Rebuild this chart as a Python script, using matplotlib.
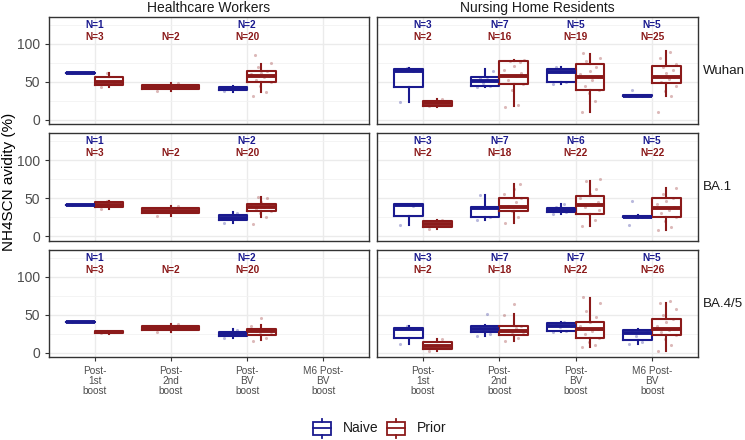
import matplotlib
matplotlib.use('Agg')
import matplotlib.pyplot as plt
from matplotlib.patches import Rectangle
from matplotlib.lines import Line2D

plt.rcParams['font.family'] = ['Liberation Sans', 'DejaVu Sans']

CATEGORIES = ['Post-\n1st\nboost', 'Post-\n2nd\nboost', 'Post-\nBV\nboost', 'M6 Post-\nBV\nboost']
COHORTS = ['Healthcare Workers', 'Nursing Home Residents']
VARIANTS = ['Wuhan', 'BA.1', 'BA.4/5']
GROUPS = ['Naive', 'Prior']

# box stats per category: (whisker low, q1, median, q3, whisker high), None = no data
hcw_wuhan_naive = [(62, 62, 62, 62, 62), None, (37, 39, 41, 43, 45), None]
hcw_wuhan_prior = [(43, 46, 50, 57, 62), (38, 40.5, 43, 45.5, 48), (37, 50, 58, 64, 73), None]
hcw_ba1_naive = [(41, 41, 41, 41, 41), None, (18, 21, 24, 28, 32), None]
hcw_ba1_prior = [(36, 38, 41, 45, 47), (27, 30, 33, 37, 40), (26, 33, 38, 43, 52), None]
hcw_ba45_naive = [(41, 41, 41, 41, 41), None, (20, 22, 25, 28, 31), None]
hcw_ba45_prior = [(25.5, 26, 27.5, 28.5, 29), (28, 30, 33, 36, 38), (17, 24, 29, 32, 37), None]

nh_wuhan_naive = [(24, 43, 64, 67, 68), (44, 45, 51, 56, 67), (47, 50, 63, 67, 70), (31, 31.5, 32, 33, 33.5)]
nh_wuhan_prior = [(17, 19, 22, 25, 27), (18, 47, 58, 77, 79), (10, 40, 56, 73, 87), (32, 49, 56, 71, 91)]
nh_ba1_naive = [(15, 27, 41, 42, 42), (21, 25, 37, 39, 54), (29, 32, 34, 37, 43), (24, 25, 26, 27, 28)]
nh_ba1_prior = [(9, 12, 16, 20, 22), (18, 33, 39, 50, 69), (14, 29, 41, 53, 72), (8, 26, 37, 50, 63)]
nh_ba45_naive = [(12, 20, 31, 33, 35), (22, 27, 31, 35, 37), (27, 29, 36, 39, 41), (12, 17, 26, 30, 31)]
nh_ba45_prior = [(2, 5, 9, 15, 18), (16, 23, 29, 35, 51), (8, 19, 31, 41, 72), (3, 23, 31, 45, 66)]

# individual points per category
hcw_wuhan_naive_pts = [[62], [], [38, 44], []]
hcw_wuhan_prior_pts = [[43, 50, 62], [38, 48], [32, 37, 45, 50, 53, 56, 58, 60, 62, 65, 70, 75, 85], []]
hcw_ba1_naive_pts = [[41], [], [18, 31], []]
hcw_ba1_prior_pts = [[36, 41, 47], [27, 40], [16, 26, 30, 33, 36, 38, 40, 42, 45, 50, 52], []]
hcw_ba45_naive_pts = [[41], [], [20, 30], []]
hcw_ba45_prior_pts = [[26, 27, 29], [28, 38], [16, 20, 25, 27, 29, 30, 32, 35, 46], []]

nh_wuhan_naive_pts = [[24, 64, 68], [44, 45, 48, 51, 55, 56, 64], [47, 50, 63, 67, 70], [31, 32, 32, 33, 40]]
nh_wuhan_prior_pts = [[18, 27], [17, 20, 40, 47, 52, 58, 62, 66, 71, 76, 78, 79],
                      [10, 25, 35, 40, 45, 52, 56, 60, 65, 70, 78, 82, 88],
                      [10, 32, 38, 45, 50, 54, 56, 58, 62, 66, 70, 74, 82, 90]]
nh_ba1_naive_pts = [[15, 40, 42], [21, 25, 37, 39, 54], [29, 32, 34, 36, 38, 43], [15, 25, 26, 27, 46]]
nh_ba1_prior_pts = [[9, 22], [18, 26, 33, 38, 40, 45, 50, 56, 62, 69],
                    [14, 22, 29, 35, 38, 41, 45, 50, 55, 62, 72, 75],
                    [8, 12, 20, 26, 30, 35, 38, 42, 46, 50, 55, 63]]
nh_ba45_naive_pts = [[12, 31, 35], [22, 25, 31, 34, 36, 51], [27, 29, 34, 36, 39, 41], [12, 15, 22, 28, 30]]
nh_ba45_prior_pts = [[2, 18], [16, 20, 25, 28, 30, 33, 36, 50, 64],
                     [8, 10, 15, 19, 25, 29, 31, 35, 40, 47, 55, 66, 73],
                     [3, 10, 18, 23, 27, 30, 31, 35, 40, 45, 50, 58, 66, 68]]

# sample sizes (0 = no label)
hcw_n_naive = [1, 0, 2, 0]
hcw_n_prior = [3, 2, 20, 0]
nh_wuhan_n_naive = [3, 7, 5, 5]
nh_wuhan_n_prior = [2, 16, 19, 25]
nh_ba1_n_naive = [3, 7, 6, 5]
nh_ba1_n_prior = [2, 18, 22, 22]
nh_ba45_n_naive = [3, 7, 7, 5]
nh_ba45_n_prior = [2, 18, 22, 26]

PANELS = {
    (0, 0): (hcw_wuhan_naive, hcw_wuhan_prior, hcw_wuhan_naive_pts, hcw_wuhan_prior_pts, hcw_n_naive, hcw_n_prior),
    (1, 0): (hcw_ba1_naive, hcw_ba1_prior, hcw_ba1_naive_pts, hcw_ba1_prior_pts, hcw_n_naive, hcw_n_prior),
    (2, 0): (hcw_ba45_naive, hcw_ba45_prior, hcw_ba45_naive_pts, hcw_ba45_prior_pts, hcw_n_naive, hcw_n_prior),
    (0, 1): (nh_wuhan_naive, nh_wuhan_prior, nh_wuhan_naive_pts, nh_wuhan_prior_pts, nh_wuhan_n_naive, nh_wuhan_n_prior),
    (1, 1): (nh_ba1_naive, nh_ba1_prior, nh_ba1_naive_pts, nh_ba1_prior_pts, nh_ba1_n_naive, nh_ba1_n_prior),
    (2, 1): (nh_ba45_naive, nh_ba45_prior, nh_ba45_naive_pts, nh_ba45_prior_pts, nh_ba45_n_naive, nh_ba45_n_prior),
}

COLORS = {'Naive': '#1a1a8f', 'Prior': '#8b1a1a'}
JITTER = [-0.11, 0.06, -0.02, 0.12, -0.07, 0.03, 0.10, -0.13, 0.00, 0.08, -0.05, 0.13, -0.09, 0.04, -0.12, 0.09]

W, H = 745, 440
fig = plt.figure(figsize=(W / 100, H / 100), dpi=100)

col_x = [(49, 369), (377, 698)]
row_y = [(17.3, 124.3), (133.3, 240.7), (250, 357.3)]


def draw_box(ax, pos, width, st, color):
    if st is None:
        return
    stat = dict(whislo=st[0], q1=st[1], med=st[2], q3=st[3], whishi=st[4], fliers=[])
    ax.bxp([stat], positions=[pos], widths=[width], showcaps=False, showfliers=False,
           boxprops=dict(color=color, linewidth=1.5),
           whiskerprops=dict(color=color, linewidth=1.5),
           medianprops=dict(color=color, linewidth=2.8, solid_capstyle='butt'),
           manage_ticks=False, zorder=3)


def draw_pts(ax, pos, spread, vals, color):
    for i, v in enumerate(vals):
        ax.scatter(pos + JITTER[i % len(JITTER)] * spread, v, s=5, color=color,
                   alpha=0.3, linewidths=0, zorder=4)


for (r, c), (bn, bp, pn, pp, nn, npr) in PANELS.items():
    x0, x1 = col_x[c]
    y0, y1 = row_y[r]
    ax = fig.add_axes([x0 / W, 1 - y1 / H, (x1 - x0) / W, (y1 - y0) / H])
    ax.set_xlim(0.4, 4.6)
    ax.set_ylim(-5.7, 135.1)
    ax.set_yticks([0, 50, 100])
    ax.set_yticks([25, 75, 125], minor=True)
    ax.set_xticks(range(1, 5))
    ax.grid(True, which='major', color='#ebebeb', linewidth=1.0, zorder=0)
    ax.grid(True, which='minor', axis='y', color='#f2f2f2', linewidth=0.6, zorder=0)
    ax.set_axisbelow(True)
    for s in ax.spines.values():
        s.set_color('#333333')
        s.set_linewidth(1.0)
    ax.tick_params(axis='both', which='major', length=3, color='#333333', labelcolor='#4d4d4d', labelsize=10)
    ax.tick_params(axis='both', which='minor', length=0)
    if c == 1:
        ax.tick_params(axis='y', labelleft=False, length=0)
    if r < 2:
        ax.tick_params(axis='x', labelbottom=False, length=0)
    else:
        ax.set_xticklabels(CATEGORIES, fontsize=7.2, color='#4d4d4d', linespacing=1.0)

    for i in range(4):
        pos = i + 1
        both = bn[i] is not None and bp[i] is not None
        if both:
            draw_box(ax, pos - 0.1875, 0.375, bn[i], COLORS['Naive'])
            draw_box(ax, pos + 0.1875, 0.375, bp[i], COLORS['Prior'])
            draw_pts(ax, pos - 0.1875, 1.0, pn[i], COLORS['Naive'])
            draw_pts(ax, pos + 0.1875, 1.0, pp[i], COLORS['Prior'])
        else:
            draw_box(ax, pos, 0.75, bn[i], COLORS['Naive'])
            draw_box(ax, pos, 0.75, bp[i], COLORS['Prior'])
            draw_pts(ax, pos, 1.6, pn[i], COLORS['Naive'])
            draw_pts(ax, pos, 1.6, pp[i], COLORS['Prior'])
        if nn[i]:
            ax.text(pos, 125, f'N={nn[i]}', ha='center', va='center', fontsize=7.3,
                    fontweight='bold', color=COLORS['Naive'], zorder=5)
        if npr[i]:
            ax.text(pos, 109.5, f'N={npr[i]}', ha='center', va='center', fontsize=7.3,
                    fontweight='bold', color=COLORS['Prior'], zorder=5)

    if r == 0:
        ax.set_title(COHORTS[c], fontsize=10, color='#1a1a1a', pad=4)
    if c == 1:
        ax.text(703 / W, 1 - (y0 + y1) / 2 / H, VARIANTS[r], transform=fig.transFigure,
                ha='left', va='center', fontsize=9.6, color='#1a1a1a')

fig.text(9 / W, 1 - 182 / H, 'NH4SCN avidity (%)', rotation=90, ha='center', va='center',
         fontsize=11, color='black')

# legend drawn as small boxplot glyphs
lax = fig.add_axes([0, 0, 1, 1], facecolor='none')
lax.set_xlim(0, W)
lax.set_ylim(H, 0)
lax.axis('off')
for gx, tx, g in [(313, 343, 'Naive'), (387, 417, 'Prior')]:
    col = COLORS[g]
    lax.add_patch(Rectangle((gx, 422), 18, 13, fill=False, edgecolor=col, linewidth=1.3))
    lax.add_line(Line2D([gx, gx + 18], [428.5, 428.5], color=col, linewidth=1.3))
    lax.add_line(Line2D([gx + 9, gx + 9], [419, 422], color=col, linewidth=1.3))
    lax.add_line(Line2D([gx + 9, gx + 9], [435, 438], color=col, linewidth=1.3))
    lax.text(tx, 428.5, g, ha='left', va='center', fontsize=10, color='#1a1a1a')

fig.savefig('out.png', dpi=100, facecolor='white')
